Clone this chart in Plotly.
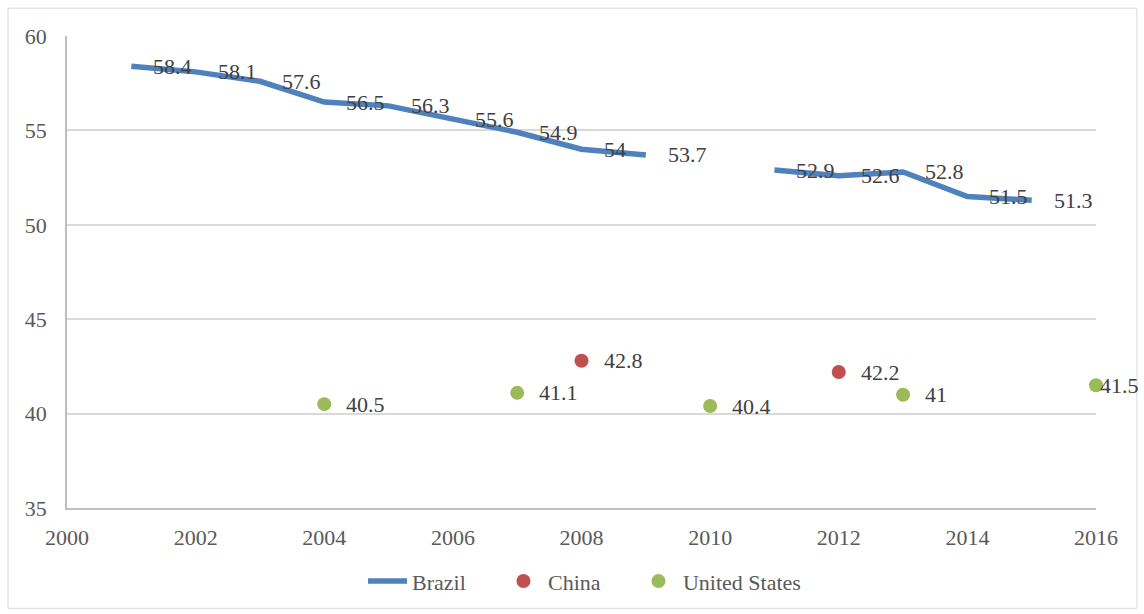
import plotly.graph_objects as go

# ---- data ----
brazil_years = [2001, 2002, 2003, 2004, 2005, 2006, 2007, 2008, 2009, 2010,
                2011, 2012, 2013, 2014, 2015]
brazil_values = [58.4, 58.1, 57.6, 56.5, 56.3, 55.6, 54.9, 54, 53.7, None,
                 52.9, 52.6, 52.8, 51.5, 51.3]
china_years = [2008, 2012]
china_values = [42.8, 42.2]
us_years = [2004, 2007, 2010, 2013, 2016]
us_values = [40.5, 41.1, 40.4, 41, 41.5]
x_ticks = [2000, 2002, 2004, 2006, 2008, 2010, 2012, 2014, 2016]
y_ticks = [35, 40, 45, 50, 55, 60]

BLUE = "#4F81BD"
RED = "#C0504D"
GREEN = "#9BBB59"
FONT = "Liberation Serif, Times New Roman, serif"
TXT = "#404040"
FS = 22

fig = go.Figure()
fig.add_trace(go.Scatter(x=brazil_years, y=brazil_values, mode="lines", name="Brazil",
                         line=dict(color=BLUE, width=5.5), connectgaps=False,
                         cliponaxis=False, legend="legend"))
fig.add_trace(go.Scatter(x=china_years, y=china_values, mode="markers", name="China",
                         marker=dict(color=RED, size=14), cliponaxis=False,
                         legend="legend2"))
fig.add_trace(go.Scatter(x=us_years, y=us_values, mode="markers", name="United States",
                         marker=dict(color=GREEN, size=14), cliponaxis=False,
                         legend="legend3"))

annotations = []
for xs, ys in [(brazil_years, brazil_values), (china_years, china_values), (us_years, us_values)]:
    for xv, yv in zip(xs, ys):
        if yv is None:
            continue
        shift = 2 if xv >= x_ticks[-1] else 20
        annotations.append(dict(x=xv, y=yv, xref="x", yref="y", text=f"{yv:g}",
                                showarrow=False, xanchor="left", yanchor="middle",
                                xshift=shift, font=dict(family=FONT, size=FS, color=TXT)))

leg_common = dict(orientation="h", xanchor="left", y=-0.155, yanchor="middle",
                  font=dict(family=FONT, size=FS, color="#595959"),
                  bgcolor="rgba(0,0,0,0)", borderwidth=0, itemwidth=39)

fig.update_layout(
    width=1144, height=614,
    margin=dict(l=67, r=48, t=36, b=103),
    paper_bgcolor="white", plot_bgcolor="white",
    font=dict(family=FONT, size=FS, color="#595959"),
    showlegend=True,
    legend=dict(x=0.2877, **leg_common),
    legend2=dict(x=0.4198, **leg_common),
    legend3=dict(x=0.551, **leg_common),
    annotations=annotations,
    shapes=[dict(type="rect", xref="paper", yref="paper",
                 x0=-0.0573, x1=1.0398, y0=-0.2126, y1=1.0589,
                 line=dict(color="#D9D9D9", width=1), layer="below")],
)
fig.update_xaxes(range=[2000, 2016], tickvals=x_ticks, ticktext=[str(t) for t in x_ticks],
                 showgrid=False, zeroline=False, showline=True, linecolor="#BFBFBF",
                 linewidth=1.5, ticks="", ticklabelstandoff=9)
fig.update_yaxes(range=[35, 60], tickvals=y_ticks, showgrid=True, gridcolor="#D9D9D9",
                 gridwidth=1.5, zeroline=False, showline=True, linecolor="#BFBFBF",
                 linewidth=1.5, ticks="", ticklabelstandoff=14)

fig.write_html("out.html")
